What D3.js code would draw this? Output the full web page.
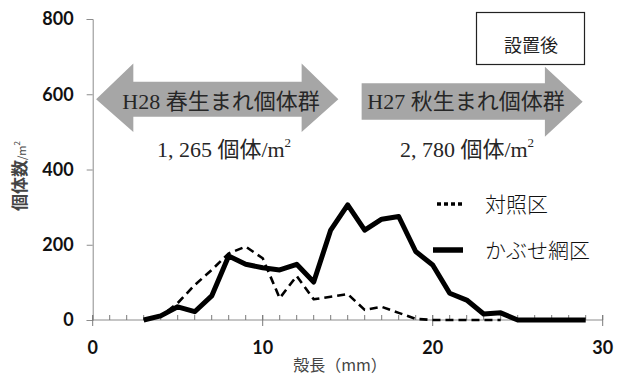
<!DOCTYPE html>
<html><head><meta charset="utf-8">
<script src="https://cdn.jsdelivr.net/npm/d3@7"></script>
<style>
body{margin:0;background:#fff;}
svg{display:block;}
</style></head>
<body><svg id="c" width="618" height="380"></svg>
<script>
const shellLength = [3,4,5,6,7,8,9,10,11,12,13,14,15,16,17,18,19,20,21,22,23,24,25,26,27,28,29];
const kabuseami = [0,11,35,22,64,170,148,139,133,148,101,239,306,239,268,275,182,146,71,53,16,19,0,0,0,0,0];
const controlLength = [3,4,5,6,7,8,9,10,11,12,13,14,15,16,17,18,19,20,21,22,23,24];
const control = [0,10,45,93,133,177,195,164,58,117,55,62,69,27,35,19,3,0,0,0,0,0];
const xTicks = [0,10,20,30];
const yTicks = [0,200,400,600,800];
const seriesNames = ["対照区","かぶせ網区"];

const svg = d3.select("#c");
const x = d3.scaleLinear().domain([0,30]).range([92.7,602.7]);
const y = d3.scaleLinear().domain([0,800]).range([320,19]);
const axisColor = "#8c8c8c";
const tickFont = "Lato, 'Open Sans', 'Liberation Sans', sans-serif";
const serif = "'Liberation Serif','DejaVu Serif','Noto Sans CJK JP',serif";

// Y axis
const yAxis = svg.append("g").attr("transform",`translate(${x(0)},0)`)
  .call(d3.axisLeft(y).tickValues(yTicks).tickSize(6).tickPadding(13).tickFormat(d3.format("d")));
yAxis.select(".domain").attr("stroke",axisColor).attr("stroke-width",1);
yAxis.selectAll(".tick line").attr("stroke",axisColor);
yAxis.selectAll("text").attr("font-family",tickFont).attr("font-weight","bold").attr("font-size",18).attr("fill","#111");

// X axis: minor ticks inside, major crossing
const minor = d3.range(0,31);
const xg = svg.append("g").attr("transform",`translate(0,${y(0)})`);
xg.append("line").attr("x1",x(0)).attr("x2",x(30)).attr("stroke",axisColor);
xg.selectAll("line.minor").data(minor).join("line").attr("class","minor")
  .attr("x1",d=>x(d)).attr("x2",d=>x(d)).attr("y1",-5).attr("y2",0)
  .attr("stroke","#7a7a7a");
xg.selectAll("line.major").data(xTicks).join("line").attr("class","major")
  .attr("x1",d=>x(d)).attr("x2",d=>x(d)).attr("y1",-5).attr("y2",6).attr("stroke","#7a7a7a");
xg.selectAll("text").data(xTicks).join("text")
  .attr("x",d=>x(d)).attr("y",34).attr("text-anchor","middle")
  .attr("font-family",tickFont).attr("font-weight","bold").attr("font-size",18).attr("fill","#111")
  .text(d=>d);

// Axis titles
svg.append("text").attr("x",340).attr("y",371).attr("text-anchor","middle")
  .attr("font-family","'Noto Sans CJK JP',sans-serif").attr("font-size",16).attr("fill","#444")
  .text("殻長（mm）");
const yl = svg.append("text").attr("transform","translate(26,176) rotate(-90)").attr("text-anchor","middle")
  .attr("font-family","'Noto Sans CJK JP',sans-serif").attr("fill","#444");
yl.append("tspan").attr("font-size",17).attr("font-weight","bold").text("個体数");
yl.append("tspan").attr("font-size",11).text("/m");
yl.append("tspan").attr("font-size",8).attr("dy",-6).text("2");

// Arrows (annotation shapes, in data units)
function pt(a,b){return [x(a),y(b)];}
const leftArrow = [pt(0.2,587),pt(2.39,682),pt(2.39,633),pt(12.29,633),pt(12.29,682),pt(14.45,587),
  pt(12.29,500),pt(12.29,540),pt(2.39,540),pt(2.39,500)];
const rightArrow = [pt(15.82,629),pt(26.6,629),pt(26.6,673),pt(28.82,580),pt(26.6,487),pt(26.6,532),pt(15.82,532)];
const line0 = d3.line();
svg.append("path").attr("d",line0(leftArrow)+"Z").attr("fill","#a6a6a6");
svg.append("path").attr("d",line0(rightArrow)+"Z").attr("fill","#a6a6a6");

function label(cx,cy,parts,fs){
  const t = svg.append("text").attr("x",cx).attr("y",cy).attr("text-anchor","middle")
    .attr("font-family",serif).attr("font-size",fs).attr("fill","#262626");
  parts.forEach(p=>{const s=t.append("tspan").text(p.t); if(p.fs) s.attr("font-size",p.fs); if(p.dy!==undefined) s.attr("dy",p.dy);});
}
label(221,109,[{t:"H28 春生まれ個体群"}],22);
label(466,109,[{t:"H27 秋生まれ個体群"}],22);
label(224,157,[{t:"1, 265 個体/m"},{t:"2",fs:13,dy:-10}],22);
label(467,157,[{t:"2, 780 個体/m"},{t:"2",fs:13,dy:-10}],22);

// 設置後 box
svg.append("rect").attr("x",476.5).attr("y",12.5).attr("width",108).attr("height",52)
  .attr("fill","#fff").attr("stroke","#222").attr("stroke-width",1.2);
svg.append("text").attr("x",531).attr("y",52).attr("text-anchor","middle")
  .attr("font-family","'Noto Sans CJK JP',sans-serif").attr("font-size",18).attr("fill","#222").text("設置後");

// Data lines
const line = d3.line().x(d=>x(d[0])).y(d=>y(d[1]));
svg.append("path").datum(controlLength.map((l,i)=>[l,control[i]])).attr("d",line)
  .attr("fill","none").attr("stroke","#000").attr("stroke-width",2.6).attr("stroke-dasharray","8,5")
  .attr("stroke-linejoin","round");
svg.append("path").datum(shellLength.map((l,i)=>[l,kabuseami[i]])).attr("d",line)
  .attr("fill","none").attr("stroke","#000").attr("stroke-width",5).attr("stroke-linejoin","round");

// Legend
svg.append("line").attr("x1",437).attr("x2",465).attr("y1",204).attr("y2",204)
  .attr("stroke","#000").attr("stroke-width",3.5).attr("stroke-dasharray","4,3");
svg.append("line").attr("x1",433).attr("x2",463).attr("y1",250).attr("y2",250)
  .attr("stroke","#000").attr("stroke-width",5.5);
svg.append("text").attr("x",485).attr("y",212).attr("font-family","'Noto Sans CJK JP',sans-serif")
  .attr("font-size",21).attr("font-weight",300).attr("fill","#111").text(seriesNames[0]);
svg.append("text").attr("x",485).attr("y",258).attr("font-family","'Noto Sans CJK JP',sans-serif")
  .attr("font-size",21).attr("font-weight",300).attr("fill","#111").text(seriesNames[1]);
</script></body></html>
